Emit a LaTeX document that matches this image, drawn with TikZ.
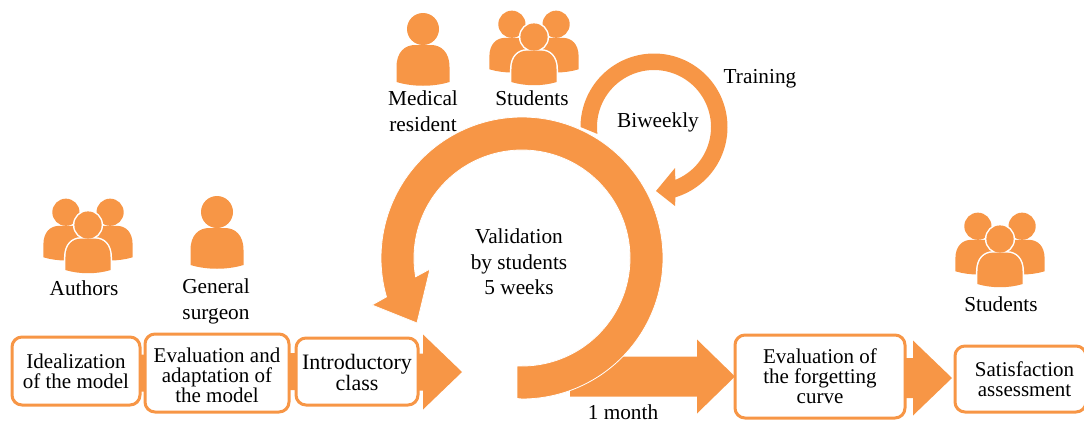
\documentclass[tikz,border=0pt]{standalone}
\usepackage{fontspec}
\usetikzlibrary{calc}
\setmainfont{Liberation Serif}
\definecolor{acc}{HTML}{F79646}
\newcommand\bustpath{(-26.5,53) -- (-26.5,38) .. controls (-26.5,23) and (-18,16) .. (-8,16) -- (8,16) .. controls (18,16) and (26.5,23) .. (26.5,38) -- (26.5,53) .. controls (10,58) and (-10,58) .. (-26.5,53) -- cycle}
\newcommand\personicon[1]{\begin{scope}[shift={(#1)}]
  \fill[acc] (0,0) circle[radius=16pt];
  \fill[acc] \bustpath;
\end{scope}}
\newcommand\groupicon[1]{\begin{scope}[shift={(#1)},scale=.85]
  \fill[acc] (-26,-15) circle[radius=16pt];
  \fill[acc] (26,-15) circle[radius=16pt];
  \begin{scope}[shift={(-26,-15)}]\fill[acc] \bustpath;\end{scope}
  \begin{scope}[shift={(26,-15)}]\fill[acc] \bustpath;\end{scope}
  \draw[white,line width=3pt] (0,0) circle[radius=16pt];
  \draw[white,line width=3pt] \bustpath;
  \fill[acc] (0,0) circle[radius=16pt];
  \fill[acc] \bustpath;
\end{scope}}
% horizontal block arrow: start, tip, half shaft, head length, half head
\newcommand\blockarrow[5]{\fill[acc] let \p1=(#1),\p2=(#2) in
  (\x1,\y2+#3) -- (\x2-#4,\y2+#3) -- (\x2-#4,\y2+#5) -- (\x2,\y2) -- (\x2-#4,\y2-#5) -- (\x2-#4,\y2-#3) -- (\x1,\y2-#3) -- cycle;}
\tikzset{
  flowbox/.style={draw=acc,fill=white,line width=3pt,rounded corners=10pt,inner sep=0pt,outer sep=0pt,align=center,text=black},
  lab/.style={inner sep=0pt,align=center,text=black,font=\fontsize{21.3}{25.5}\selectfont},
  boxfont/.style={font=\fontsize{#1}{20}\selectfont}
}
\begin{document}
\begin{tikzpicture}[x=1pt,y=-1pt]
\useasboundingbox (0,0) rectangle (1084,423);
% boxes
\node[flowbox,boxfont=21,minimum width=128pt,minimum height=68pt] (b1) at (76,371) {Idealization\\of the model};
\node[flowbox,boxfont=21,minimum width=144pt,minimum height=78pt] (b2) at (217,373) {\rule{0pt}{19pt}Evaluation and\\adaptation of\\the model};
\node[flowbox,boxfont=22,minimum width=122pt,minimum height=67pt] (b3) at (357,371.5) {\rule{0pt}{18pt}Introductory\\class};
\node[flowbox,boxfont=21,minimum width=170pt,minimum height=83pt] (b4) at (820,376.5) {Evaluation of\\the forgetting\\curve};
\node[flowbox,boxfont=21,minimum width=131pt,minimum height=66pt] (b5) at (1020.5,379) {\kern8pt Satisfaction\\\kern8pt assessment};
% connectors
\blockarrow{b1.east}{b2.west}{18.5}{0}{18.5}
\blockarrow{b2.east}{b3.west}{18.5}{0}{18.5}
\coordinate (t3) at (462,372);
\blockarrow{b3.east}{t3}{18.5}{39}{37.5}
\coordinate (m0) at (570,376);
\blockarrow{m0}{b4.west}{20}{38}{37}
\coordinate (t4) at (952,378);
\blockarrow{b4.east}{t4}{20}{39}{37.5}
% small loop
\fill[acc] plot[domain=180:433,samples=120] ({654+73.5*cos(\x)},{127+73.5*sin(\x)})
  -- (675,206) -- (656,191) -- (675,168)
  -- plot[domain=428:173,samples=120] ({654+57*cos(\x)},{127+57*sin(\x)}) -- cycle;
% large loop
\filldraw[fill=acc,draw=white,line width=.8pt] (517,398.5) -- plot[domain=90:-196,samples=200] ({522+141*cos(\x)},{258+141*sin(\x)})
  -- (372,305) -- (417,323) -- (430,269)
  -- plot[domain=-190:90,samples=200] ({522+108*cos(\x)},{258+108*sin(\x)}) -- (517,366) -- cycle;
% people
\personicon{423,29}
\groupicon{534,37}
\groupicon{88,225}
\personicon{217,212}
\groupicon{1000,239}
% labels
\node[lab] (lmed) at (423,111) {Medical\\resident};
\node[lab] (lstu) at (532,98) {Students};
\node[lab] (ltra) at (760,79) {Training};
\node[lab] (lbiw) at (658,122) {Biweekly};
\node[lab] (lval) at (519,262) {Validation\\by students\\5 weeks};
\node[lab] (laut) at (84,288) {Authors};
\node[lab] (lgen) at (216,301.5) {General\\surgeon};
\node[lab] (lmon) at (623,412) {1 month};
\node[lab] (lst2) at (1001,304) {Students};
\end{tikzpicture}
\end{document}
